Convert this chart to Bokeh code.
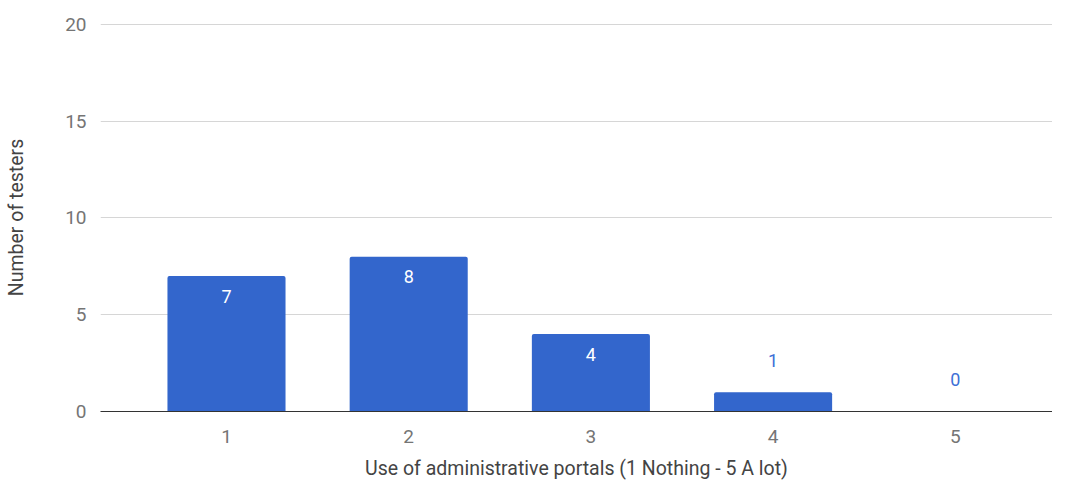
from bokeh.plotting import figure
from bokeh.models import ColumnDataSource, Range1d, FixedTicker
from bokeh.core.properties import value
from bokeh.embed import file_html
from bokeh.resources import INLINE

categories = ["1", "2", "3", "4", "5"]
testers = [7, 8, 4, 1, 0]
y_ticks = [0, 5, 10, 15, 20]
x_title = "Use of administrative portals (1 Nothing - 5 A lot)"
y_title = "Number of testers"

BAR = "#3366cc"
FONT = "Roboto"

xs = [i + 1 for i in range(len(categories))]
inside = [v >= 2 for v in testers]
src = ColumnDataSource(dict(
    x=xs, top=testers, label=[str(v) for v in testers],
    color=["#ffffff" if ins else "#3d6fd6" for ins in inside],
    yoff=[20 if ins else -32 for ins in inside],
))

p = figure(width=1052, height=482, output_backend="svg", toolbar_location=None,
           x_range=Range1d(0.3085, 5.5335), y_range=Range1d(0, 20.05),
           min_border_left=100, min_border_right=0, min_border_top=23, min_border_bottom=70)
p.outline_line_color = None
p.background_fill_color = "white"

p.vbar(x="x", top="top", bottom=0, width=0.648, source=src, fill_color=BAR,
       line_color=None, border_radius=(2, 2, 0, 0))
p.text(x="x", y="top", text="label", source=src, text_color="color",
       y_offset="yoff", text_align="center", text_baseline="middle",
       text_font=value(FONT), text_font_size="18px")

p.xaxis.ticker = FixedTicker(ticks=xs)
p.xaxis.major_label_overrides = {x: c for x, c in zip(xs, categories)}
p.yaxis.ticker = FixedTicker(ticks=y_ticks)

for ax in (p.xaxis, p.yaxis):
    ax.major_tick_line_color = None
    ax.minor_tick_line_color = None
    ax.major_label_text_font = FONT
    ax.major_label_text_font_size = "19px"
    ax.major_label_text_color = "#757575"
    ax.axis_label_text_font = FONT
    ax.axis_label_text_font_size = "19.5px"
    ax.axis_label_text_font_style = "normal"
    ax.axis_label_text_color = "#444444"

p.xaxis.axis_line_color = "#333333"
p.xaxis.major_label_standoff = 12
p.xaxis.axis_label = x_title
p.xaxis.axis_label_standoff = 11
p.yaxis.axis_line_color = None
p.yaxis.major_label_standoff = 8
p.yaxis.axis_label = y_title
p.yaxis.axis_label_standoff = 34

p.xgrid.grid_line_color = None
p.ygrid.grid_line_color = "#d6d6d6"

open("out.html", "w").write(file_html(p, INLINE))
